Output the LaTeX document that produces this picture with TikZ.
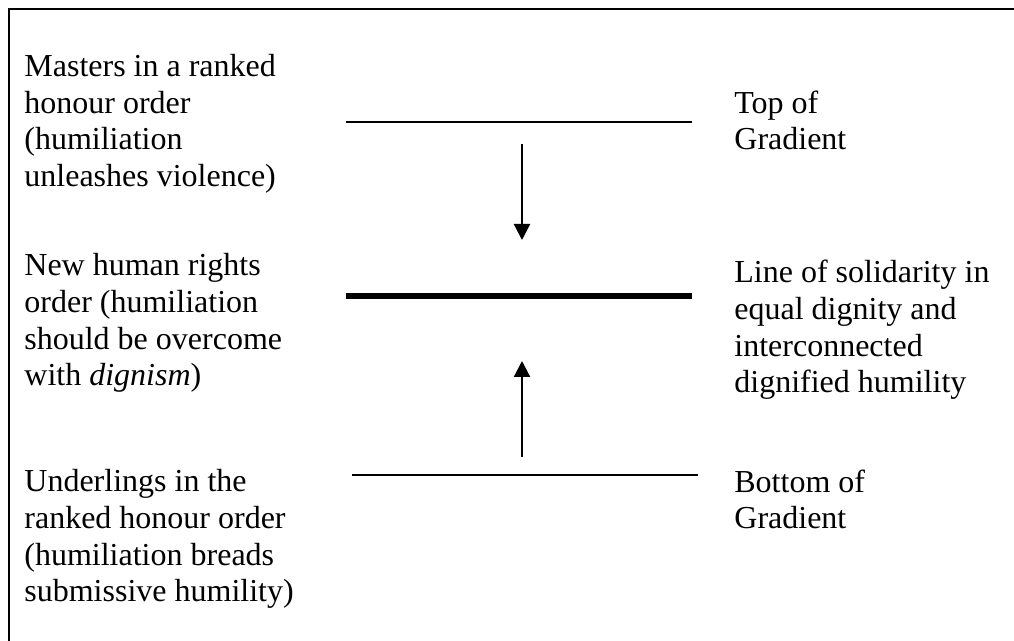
\documentclass[tikz,border=0pt]{standalone}
\usepackage{fontspec}
\setmainfont{Liberation Serif}
\usetikzlibrary{arrows.meta}

\tikzset{
    testo/.style={anchor=base west, inner sep=0pt, align=left,
                  font=\fontsize{16}{18.35}\selectfont},
    livello/.style={line width=0.7pt},
    freccia/.style={-{Triangle[width=8pt,length=8pt]}, line width=1.1pt}
}

\begin{document}
\begin{tikzpicture}[x=0.5pt, y=-0.5pt]
        \useasboundingbox (0,0) rectangle (1014,641);

        % Posizioni delle linee (ancora = ultima riga di testo)
        \def\xL{346}
        \def\xR{692}
        \def\xM{522}

        % cornice (solo lati sinistro e superiore)
        \draw[line width=1.15pt] (9,641) -- (9,9) -- (1014,9);

        % ----------------------------------------------------
        % 1. Cima del gradiente
        % ----------------------------------------------------
        \node[testo] (masters) at (24,186.5) {Masters in a ranked\\honour order\\(humiliation\\unleashes violence)};
        \draw[livello] (\xL,122) -- (\xR,122);
        \node[testo] (top) at (734,150) {Top of\\Gradient};

        % ----------------------------------------------------
        % 2. Linea di solidarieta'
        % ----------------------------------------------------
        \node[testo] (rights) at (24,386) {New human rights\\order (humiliation\\should be overcome\\with \textit{dignism})};
        \draw[line width=3.2pt] (\xL,296) -- (\xR,296);
        \node[testo] (solid) at (734,393) {Line of solidarity in\\equal dignity and\\interconnected\\dignified humility};

        % ----------------------------------------------------
        % 3. Fondo del gradiente
        % ----------------------------------------------------
        \node[testo] (under) at (24,602) {Underlings in the\\ranked honour order\\(humiliation breads\\submissive humility)};
        \draw[livello] (352,475) -- (698,475);
        \node[testo] (bottom) at (734,529) {Bottom of\\Gradient};

        % frecce verso la linea centrale
        \coordinate (giu A) at (\xM,144);
        \coordinate (giu B) at (\xM,240);
        \coordinate (su A) at (\xM,457);
        \coordinate (su B) at (\xM,361);
        \draw[freccia] (giu A) -- (giu B);
        \draw[freccia] (su A) -- (su B);

    \end{tikzpicture}
\end{document}
